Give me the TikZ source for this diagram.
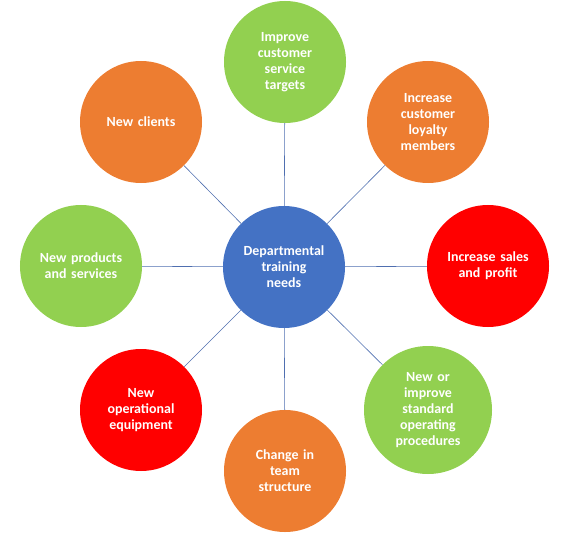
\documentclass[tikz,border=0pt]{standalone}
\usepackage{fontspec}
\setmainfont{Carlito}
\definecolor{needgreen}{HTML}{92D050}
\definecolor{needorange}{HTML}{ED7D31}
\definecolor{needred}{HTML}{FF0000}
\definecolor{needblue}{HTML}{4472C4}
\definecolor{linkblue}{HTML}{4F6FB0}
\tikzset{
  need/.style={circle,minimum size=122bp,inner sep=0pt,text width=104bp,align=center,
    text=white,font=\fontsize{14}{16}\selectfont\bfseries},
  link/.style={-,draw=linkblue,line width=0.6pt}
}
\begin{document}
\begin{tikzpicture}[x=1bp,y=1bp]
      \useasboundingbox (0,0) rectangle (567,-534);

      \node[need,fill=needblue] (dept) at (284,-267) {Departmental\\training\\needs};

      \node[need,fill=needgreen] (service) at (285,-62) {Improve\\customer\\service\\targets};
      \node[need,fill=needorange] (loyalty) at (428,-122) {Increase\\customer\\loyalty\\members};
      \node[need,fill=needred] (sales) at (488,-266) {Increase sales\\and profit};
      \node[need,fill=needgreen] (sop) at (428,-410) {New or\\improve\\standard\\operating\\procedures};
      \node[need,fill=needorange] (team) at (285,-471) {Change in\\team\\structure};
      \node[need,fill=needred] (equip) at (141,-410) {New\\operational\\equipment};
      \node[need,fill=needgreen] (products) at (81,-266) {New products\\and services};
      \node[need,fill=needorange] (clients) at (141,-122) {New clients};

      \draw[link](dept)--(service);
      \draw[link](dept)--(loyalty);
      \draw[link](dept)--(sales);
      \draw[link](dept)--(sop);
      \draw[link](dept)--(team);
      \draw[link](dept)--(equip);
      \draw[link](dept)--(products);
      \draw[link](dept)--(clients);
    \end{tikzpicture}
\end{document}
